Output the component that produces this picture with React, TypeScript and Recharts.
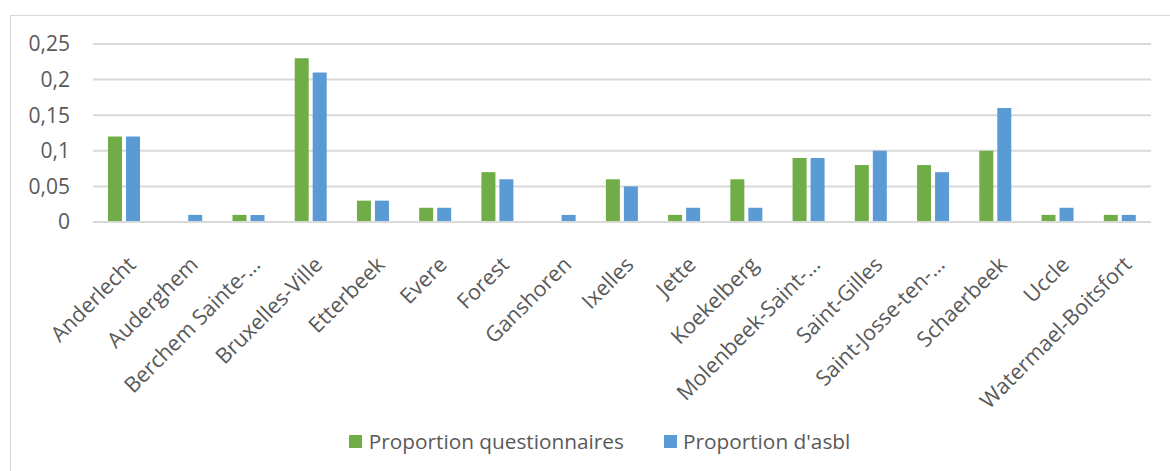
import React from "react";
import { BarChart, Bar, XAxis, YAxis, CartesianGrid, Legend } from "recharts";

const categories = [
  "Anderlecht",
  "Auderghem",
  "Berchem Sainte-…",
  "Bruxelles-Ville",
  "Etterbeek",
  "Evere",
  "Forest",
  "Ganshoren",
  "Ixelles",
  "Jette",
  "Koekelberg",
  "Molenbeek-Saint-…",
  "Saint-Gilles",
  "Saint-Josse-ten-…",
  "Schaerbeek",
  "Uccle",
  "Watermael-Boitsfort",
];
const questionnaires = [0.12, 0, 0.01, 0.23, 0.03, 0.02, 0.07, 0, 0.06, 0.01, 0.06, 0.09, 0.08, 0.08, 0.1, 0.01, 0.01];
const asbl = [0.12, 0.01, 0.01, 0.21, 0.03, 0.02, 0.06, 0.01, 0.05, 0.02, 0.02, 0.09, 0.1, 0.07, 0.16, 0.02, 0.01];
const yTicks = [0, 0.05, 0.1, 0.15, 0.2, 0.25];
const seriesNames = ["Proportion questionnaires", "Proportion d'asbl"];

const data = categories.map((c, i) => ({ name: c, q: questionnaires[i], a: asbl[i] }));

const GREEN = "#70AD47";
const BLUE = "#5B9BD5";
const TEXT = "#595959";
const FONT = "'Open Sans', sans-serif";

const XTick = (props: any) => {
  const { x, y, payload } = props;
  const ox = x + 2;
  const oy = y + 25;
  return (
    <text
      x={0}
      y={0}
      transform={`translate(${ox},${oy}) rotate(-45)`}
      textAnchor="end"
      dy="0.72em"
      fill={TEXT}
      fontSize={21.5}
      fontFamily={FONT}
    >
      {payload.value}
    </text>
  );
};

const LegendContent = () => (
  <div
    style={{
      display: "flex",
      justifyContent: "center",
      alignItems: "center",
      fontFamily: FONT,
      fontSize: 20.8,
      color: TEXT,
      height: 60,
      paddingLeft: 48,
    }}
  >
    <div style={{ display: "flex", alignItems: "center", marginRight: 40 }}>
      <span style={{ width: 13, height: 13, background: GREEN, display: "inline-block", marginRight: 7 }} />
      <span>{seriesNames[0]}</span>
    </div>
    <div style={{ display: "flex", alignItems: "center" }}>
      <span style={{ width: 13, height: 13, background: BLUE, display: "inline-block", marginRight: 6 }} />
      <span>{seriesNames[1]}</span>
    </div>
  </div>
);

export default function App() {
  return (
    <div style={{ position: "absolute", left: 0, top: 0, width: 1170, height: 471, overflow: "hidden", background: "#fff" }}>
      <div
        style={{
          position: "absolute",
          left: 10,
          top: 15,
          width: 1200,
          height: 500,
          border: "1.5px solid #d9d9d9",
        }}
      />
      <div style={{ position: "absolute", left: 0, top: 0 }}>
        <BarChart
          width={1170}
          height={471}
          data={data}
          margin={{ top: 44, right: 19, left: 0, bottom: 0 }}
          barSize={14}
          barGap={4}
        >
          <CartesianGrid vertical={false} stroke="#d9d9d9" strokeWidth={2} />
          <XAxis
            dataKey="name"
            interval={0}
            tickLine={false}
            axisLine={{ stroke: "#d9d9d9", strokeWidth: 2 }}
            tick={<XTick />}
            height={189}
          />
          <YAxis
            width={93}
            domain={[0, 0.25]}
            ticks={yTicks}
            axisLine={false}
            tickLine={false}
            tickSize={0}
            tickMargin={23}
            tickFormatter={(v: number) => String(v).replace(".", ",")}
            tick={{ fill: TEXT, fontSize: 21, fontFamily: FONT }}
          />
          <Legend verticalAlign="bottom" height={60} content={<LegendContent />} />
          <Bar dataKey="q" name={seriesNames[0]} fill={GREEN} isAnimationActive={false} />
          <Bar dataKey="a" name={seriesNames[1]} fill={BLUE} isAnimationActive={false} />
        </BarChart>
      </div>
    </div>
  );
}
